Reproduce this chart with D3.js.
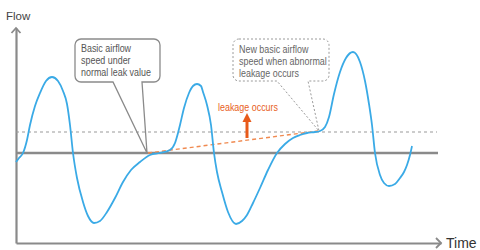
<!DOCTYPE html>
<html><head><meta charset="utf-8">
<script src="https://cdn.jsdelivr.net/npm/d3@7"></script>
<style>
html,body{margin:0;padding:0;background:#fff;}
svg{display:block;}
.lbl{font-family:"Liberation Sans",Arial,sans-serif;}
</style></head>
<body><svg id="c" width="480" height="250"></svg>
<script>
// Time (arbitrary units) and flow (arbitrary units, 0 = basic airflow under normal leak)
const curveTime = [0, 3, 7, 11, 14, 19, 24, 30, 36, 42, 47, 51, 54, 57, 61, 67, 72, 78, 84, 91, 99, 107, 115, 124, 134, 144,
  154, 159, 162, 164, 168, 173, 177, 181, 185, 187, 191, 195, 198, 201, 206, 212, 220, 226, 231, 237, 244, 252,
  261, 269, 277, 284, 291, 299, 304, 309, 313, 318, 324, 330, 337, 344, 349, 353, 356, 359, 364, 368,
  373, 379, 384, 388, 391, 394, 396];
const curveFlow = [-9, -5, 0, 13, 28, 47, 60, 72, 76, 72, 62, 49, 28, 0, -25, -49, -63, -70, -68, -59, -45, -29, -17, -9, -2, 0,
  3, 10, 20, 28, 45, 60, 67, 69, 67, 61, 48, 28, 0, -19, -39, -59, -71, -68, -62, -50, -35, -17,
  0, 9, 15, 18, 20, 21, 22, 26, 36, 59, 81, 95, 101, 91, 72, 49, 28, 0, -22, -30,
  -33, -31, -25, -19, -12, -2, 7];
const normalLevel = 0;      // basic airflow speed under normal leak value
const leakLevel = 21;       // new basic airflow speed when abnormal leakage occurs
const leakStart = [132, 0]; // [time, flow]
const leakEnd = [302, 22];
const arrowTime = 231, arrowFrom = 15, arrowTo = 40;
const axisLabels = ["Flow", "Time"];
const callout1 = ["Basic airflow", "speed under", "normal leak value"];
const callout2 = ["New basic airflow", "speed when abnormal", "leakage occurs"];
const leakLabel = "leakage occurs";

const svg = d3.select("#c");
const x = d3.scaleLinear().domain([0, 425]).range([16, 441]);
const y = d3.scaleLinear().domain([-90, 125]).range([243, 28]);
const gray = "#8a8a8a";

// axes (bare lines)
const gx = svg.append("g").attr("transform", `translate(0,${y(-90)})`)
  .call(d3.axisBottom(x).tickValues([]).tickSizeOuter(0));
const gy = svg.append("g").attr("transform", `translate(${x(0)},0)`)
  .call(d3.axisLeft(y).tickValues([]).tickSizeOuter(0));
[gx, gy].forEach(g => g.select(".domain").attr("stroke", gray).attr("stroke-width", 2.2));
// arrow heads
svg.append("path").attr("d", `M${x(0)-4.5},${y(125)+5} L${x(0)},${y(125)} L${x(0)+4.5},${y(125)+5}`)
  .attr("fill", "none").attr("stroke", gray).attr("stroke-width", 1.8);
svg.append("path").attr("d", `M${x(425)-5},${y(-90)-5} L${x(425)},${y(-90)} L${x(425)-5},${y(-90)+5}`)
  .attr("fill", "none").attr("stroke", gray).attr("stroke-width", 1.8);

svg.append("text").attr("x", 6).attr("y", 20).text(axisLabels[0])
  .attr("font-family", "Liberation Sans, Arial, sans-serif").attr("font-size", 11.5).attr("fill", "#444");
svg.append("text").attr("x", 446).attr("y", 248).text(axisLabels[1])
  .attr("font-family", "Liberation Sans, Arial, sans-serif").attr("font-size", 14).attr("fill", "#333");

// dashed level line
svg.append("line").attr("x1", x(0)).attr("x2", x(421)).attr("y1", y(leakLevel)).attr("y2", y(leakLevel))
  .attr("stroke", "#999").attr("stroke-width", 1).attr("stroke-dasharray", "3,3");
// baseline
svg.append("line").attr("x1", x(0)).attr("x2", x(422)).attr("y1", y(normalLevel)).attr("y2", y(normalLevel))
  .attr("stroke", gray).attr("stroke-width", 2.5);

// orange dashed leak trend
svg.append("line").attr("x1", x(leakStart[0])).attr("y1", y(leakStart[1]))
  .attr("x2", x(leakEnd[0])).attr("y2", y(leakEnd[1]))
  .attr("stroke", "#f08a50").attr("stroke-width", 1.4).attr("stroke-dasharray", "4,3");

// curve
const pts = curveTime.map((t, i) => [t, curveFlow[i]]);
svg.append("path").datum(pts)
  .attr("d", d3.line().x(d => x(d[0])).y(d => y(d[1])).curve(d3.curveMonotoneX))
  .attr("fill", "none").attr("stroke", "#3aaae6").attr("stroke-width", 1.8);

// orange arrow
const ax = x(arrowTime);
svg.append("line").attr("x1", ax).attr("x2", ax).attr("y1", y(arrowFrom)).attr("y2", y(arrowTo - 8))
  .attr("stroke", "#e85a1a").attr("stroke-width", 3);
svg.append("path").attr("d", `M${ax-4.5},${y(arrowTo-9)} L${ax},${y(arrowTo)} L${ax+4.5},${y(arrowTo-9)} Z`)
  .attr("fill", "#e85a1a");

function narrowText(str, tx, ty, fill) {
  svg.append("text").attr("class", "lbl")
    .attr("transform", `translate(${tx},${ty}) scale(0.79,1)`)
    .text(str).attr("font-size", 11.3).attr("fill", fill);
}
narrowText(leakLabel, 218, 111, "#e8601c");

// callouts
function bubble(x0, y0, x1, y1, pa, pb, tx, ty, r) {
  return `M${x0+r},${y0} H${x1-r} A${r},${r} 0 0 1 ${x1},${y0+r} V${y1-r} A${r},${r} 0 0 1 ${x1-r},${y1}` +
    ` H${pb} L${tx},${ty} L${pa},${y1} H${x0+r} A${r},${r} 0 0 1 ${x0},${y1-r} V${y0+r} A${r},${r} 0 0 1 ${x0+r},${y0}`;
}
svg.append("path").attr("d", bubble(75, 39, 160, 82, 113, 142, x(131), y(normalLevel), 6))
  .attr("fill", "none").attr("stroke", gray).attr("stroke-width", 1.3);
svg.append("path").attr("d", bubble(233, 39, 329, 81, 277, 308, x(303), y(leakLevel + 1), 6))
  .attr("fill", "none").attr("stroke", "#9a9a9a").attr("stroke-width", 1).attr("stroke-dasharray", "2,2");

callout1.forEach((s, i) => narrowText(s, 81, 52 + i * 12, "#555"));
callout2.forEach((s, i) => narrowText(s, 239, 53 + i * 12, "#666"));
</script></body></html>
